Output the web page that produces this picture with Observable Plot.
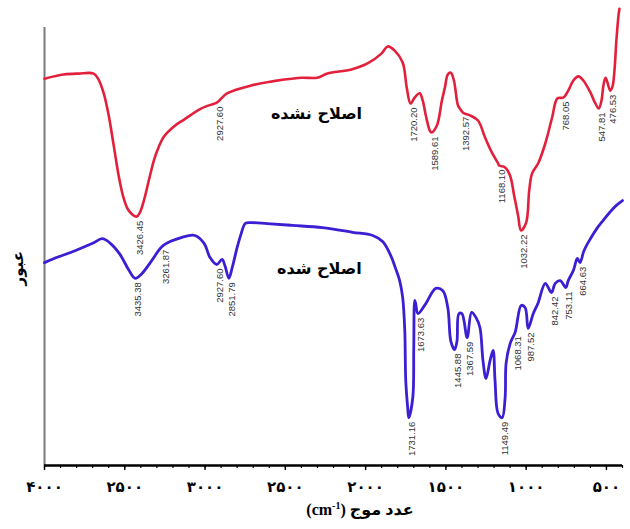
<!DOCTYPE html>
<html>
<head>
<meta charset="utf-8">
<script src="https://cdn.jsdelivr.net/npm/d3@7"></script>
<script src="https://cdn.jsdelivr.net/npm/@observablehq/plot@0.6"></script>
<style>
  body { margin: 0; background: #fff; }
  #wrap { position: relative; width: 630px; height: 529px; }
  #xtitle {
    position: absolute; left: 260px; width: 200px; top: 500px;
    text-align: center; font: bold 16px "Liberation Serif", "DejaVu Sans", serif; color: #000;
  }
  #xtitle sup { font-size: 10px; }
</style>
</head>
<body>
<div id="wrap"></div>
<script>
// FTIR transmission spectra: unmodified (red) and modified (blue) sample.
// Wavenumber in cm-1, transmittance in arbitrary units (0-100).

const redWn = [4000, 3881, 3788, 3694, 3663, 3631, 3600, 3569, 3538, 3506, 3475, 3426.45, 3406, 3381, 3350, 3319, 3288, 3256, 3194, 3131, 3025, 2927.60, 2912, 2863, 2713, 2506, 2400, 2300, 2238, 2088, 1988, 1900, 1863, 1819, 1769, 1744, 1720.20, 1694, 1663, 1644, 1625, 1600, 1589.61, 1556, 1525, 1506, 1488, 1469, 1450, 1425, 1413, 1392.57, 1350, 1300, 1256, 1213, 1175, 1168.10, 1131, 1100, 1075, 1050, 1032.22, 1000, 981, 963, 925, 881, 838, 806, 768.05, 738, 706, 675, 644, 600, 569, 547.81, 531, 519, 506, 494, 476.53, 462, 450, 438, 425, 419];
const redT  = [84.1, 85.0, 85.2, 85.2, 83.9, 80.9, 76.1, 69.6, 63.0, 58.0, 55.4, 54.1, 55.0, 57.6, 62.0, 66.3, 69.3, 71.5, 73.7, 75.2, 77.6, 78.9, 79.3, 80.9, 82.6, 83.9, 84.3, 84.3, 85.2, 86.1, 87.4, 89.6, 91.1, 90.2, 87.6, 82.2, 78.7, 80.0, 80.9, 79.3, 76.1, 72.8, 72.4, 73.9, 79.3, 82.2, 85.0, 85.4, 83.7, 78.3, 77.6, 76.7, 76.1, 75.0, 71.3, 68.0, 65.7, 65.2, 64.8, 63.0, 58.7, 54.3, 51.1, 52.8, 59.8, 63.5, 65.7, 70.0, 75.7, 79.8, 80.0, 81.5, 83.7, 84.6, 83.7, 81.1, 78.7, 77.6, 79.3, 82.6, 84.3, 83.3, 81.5, 82.4, 85.9, 92.4, 97.8, 99.3];

const blueWn = [4000, 3940, 3810, 3700, 3640, 3590, 3530, 3475, 3435.38, 3394, 3331, 3261.87, 3144, 3063, 3006, 2969, 2927.60, 2894, 2875, 2851.79, 2831, 2800, 2775, 2750, 2719, 2613, 2456, 2269, 2081, 1956, 1894, 1844, 1813, 1788, 1769, 1756, 1750, 1738, 1731.16, 1706, 1700, 1694, 1688, 1673.63, 1625, 1563, 1519, 1488, 1469, 1445.88, 1431, 1419, 1400, 1367.59, 1340, 1313, 1288, 1269, 1250, 1225, 1206, 1194, 1175, 1149.49, 1131, 1125, 1100, 1068.31, 1031, 1006, 987.52, 956, 925, 881, 842.42, 819, 788, 753.11, 738, 706, 681, 664.63, 640, 600, 560, 520, 480, 440, 400];
const blueT  = [44.1, 45.0, 46.7, 48.3, 49.3, 48.3, 45.9, 42.5, 40.7, 41.7, 44.6, 47.8, 49.6, 50.0, 48.3, 45.2, 43.7, 44.8, 43.3, 40.7, 43.0, 47.4, 50.4, 52.6, 52.8, 52.6, 52.2, 51.7, 50.7, 50.0, 48.7, 45.7, 42.8, 40.2, 36.5, 29.3, 18.5, 12.6, 10.4, 14.8, 25.7, 35.9, 35.2, 33.0, 35.2, 38.5, 38.0, 34.3, 27.0, 25.2, 27.0, 33.0, 33.0, 27.8, 33.3, 32.2, 30.0, 22.8, 18.9, 22.8, 25.0, 18.5, 11.3, 10.4, 14.8, 22.2, 26.5, 29.0, 34.8, 34.3, 29.8, 33.0, 35.4, 39.6, 37.6, 39.6, 40.2, 38.7, 40.2, 42.4, 45.0, 44.1, 46.7, 49.3, 51.5, 53.3, 55.0, 56.5, 57.6];

// Peak positions annotated on each spectrum (cm-1)
const redPeaks  = [3426.45, 2927.60, 1720.20, 1589.61, 1392.57, 1168.10, 1032.22, 768.05, 547.81, 476.53];
const bluePeaks = [3435.38, 3261.87, 2927.60, 2851.79, 1731.16, 1673.63, 1445.88, 1367.59, 1149.49, 1068.31, 987.52, 842.42, 753.11, 664.63];

const seriesNames = ["اصلاح نشده", "اصلاح شده"];
const yTitle = "عبور";

const xTicks = [4000, 3500, 3000, 2500, 2000, 1500, 1000, 500];
const xTickLabels = ["۴۰۰۰", "۲۵۰۰", "۳۰۰۰", "۲۵۰۰", "۲۰۰۰", "۱۵۰۰", "۱۰۰۰", "۵۰۰"];
const minorTicks = d3.range(4000, 399, -100);

const toRows = (wn, t) => wn.map((w, i) => ({wn: w, t: t[i]}));
const red = toRows(redWn, redT);
const blue = toRows(blueWn, blueT);

// transmittance of a spectrum at a given wavenumber (linear between samples)
function valueAt(rows, w) {
  for (let i = 0; i < rows.length - 1; i++) {
    const a = rows[i], b = rows[i + 1];
    if ((a.wn - w) * (b.wn - w) <= 0) {
      const f = (a.wn === b.wn) ? 0 : (w - a.wn) / (b.wn - a.wn);
      return a.t + f * (b.t - a.t);
    }
  }
  return rows[rows.length - 1].t;
}
const peakRows = (rows, peaks) => peaks.map(p => ({wn: p, t: valueAt(rows, p), label: p.toFixed(2)}));

const tickLabelOf = new Map(xTicks.map((v, i) => [v, xTickLabels[i]]));
const peakFont = "'Liberation Sans Narrow', 'Arial Narrow', 'Liberation Sans', sans-serif";
const persianFont = "'DejaVu Sans', 'Noto Sans', sans-serif";

const chart = Plot.plot({
  width: 630,
  height: 529,
  marginLeft: 44,
  marginRight: 8,
  marginTop: 5,
  marginBottom: 64,
  x: {domain: [4000, 400], axis: null},
  y: {domain: [0, 100], axis: null},
  style: {background: "#fff", color: "#000"},
  marks: [
    // left frame line
    Plot.ruleX([4000], {y1: 0, y2: 95.2, stroke: "#7a7a7a", strokeWidth: 2}),
    // wavenumber axis
    Plot.axisX(minorTicks, {tickSize: 3, tickFormat: () => "", label: null, strokeWidth: 1.2}),
    Plot.axisX(xTicks, {
      tickSize: 5, tickPadding: 11, label: null, strokeWidth: 1.4,
      tickFormat: d => tickLabelOf.get(d),
      fontSize: 15, fontWeight: "bold", fontFamily: persianFont
    }),
    Plot.ruleY([0], {stroke: "#000", strokeWidth: 2.5}),
    // spectra
    Plot.line(red, {x: "wn", y: "t", stroke: "#e2203c", strokeWidth: 2.6, curve: "catmull-rom"}),
    Plot.line(blue, {x: "wn", y: "t", stroke: "#3b1fd2", strokeWidth: 2.8, curve: "catmull-rom"}),
    // peak annotations
    Plot.text(peakRows(red, redPeaks), {
      x: "wn", y: "t", text: "label", rotate: -90, textAnchor: "end",
      dx: 3, dy: 4, fontSize: 9.5, fontFamily: peakFont, fill: "#333"
    }),
    Plot.text(peakRows(blue, bluePeaks), {
      x: "wn", y: "t", text: "label", rotate: -90, textAnchor: "end",
      dx: 3, dy: 4, fontSize: 9.5, fontFamily: peakFont, fill: "#333"
    }),
    // series names
    Plot.text([seriesNames[0]], {x: 2306, y: 76.5, fontSize: 16, fontWeight: "bold", fontFamily: persianFont, fill: "#000"}),
    Plot.text([seriesNames[1]], {x: 2288, y: 42.8, fontSize: 16, fontWeight: "bold", fontFamily: persianFont, fill: "#000"}),
    // transmittance title
    Plot.text([yTitle], {frameAnchor: "left", rotate: -90, dx: -26, dy: 50, fontSize: 15, fontWeight: "bold", fontFamily: persianFont, fill: "#000"})
  ]
});

const wrap = document.getElementById("wrap");
wrap.appendChild(chart);
const title = document.createElement("div");
title.id = "xtitle";
title.innerHTML = "(cm<sup>-1</sup>) عدد موج";
wrap.appendChild(title);
</script>
</body>
</html>
